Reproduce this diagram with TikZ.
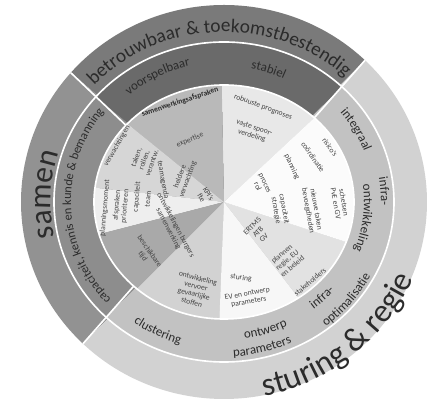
\documentclass[tikz,border=0pt]{standalone}
\usepackage{fontspec}
\setmainfont{Carlito}
\usetikzlibrary{decorations.text}

\definecolor{outA}{HTML}{7A7A7A}
\definecolor{outB}{HTML}{929292}
\definecolor{outC}{HTML}{D2D2D2}
\definecolor{midA}{HTML}{6A6A6A}
\definecolor{midB}{HTML}{8D8D8D}
\definecolor{midC}{HTML}{C2C2C2}
\definecolor{inA}{HTML}{E8E8E8}
\definecolor{inB}{HTML}{B9B9B9}
\definecolor{inC}{HTML}{D6D6D6}
\definecolor{inD}{HTML}{EEEEEE}
\definecolor{inE}{HTML}{A9A9A9}
\definecolor{inF}{HTML}{D2D2D2}
\definecolor{inG}{HTML}{F7F7F7}
\definecolor{inH}{HTML}{E2E2E2}
\definecolor{inI}{HTML}{FBFBFB}
\definecolor{txt}{HTML}{2B2B2B}
\definecolor{dimtxt}{HTML}{444444}

\tikzset{
  lbl/.style={font=\fontsize{6.5}{7}\selectfont, text=dimtxt, align=center, inner sep=0pt},
  arctext/.style 2 args={decoration={text along path, text={|#1|#2}, text align=center, text color=txt}, decorate},
  sep/.style={white, line width=1.4pt},
}

\begin{document}
\begin{tikzpicture}[x=0.03cm, y=0.03cm]
\useasboundingbox (-224,-201) rectangle (214,202);

\foreach \a/\b/\c in {46/139/outA, 139/226/outB, 226/406/outC}
  \fill[\c] (0,0) -- (\a:203 and 197) arc[start angle=\a, end angle=\b, x radius=203, y radius=197] -- cycle;
\foreach \a/\b/\c in {46/139/midA, 139/226/midB, 226/406/midC}
  \fill[\c] (0,0) -- (\a:170 and 160) arc[start angle=\a, end angle=\b, x radius=170, y radius=160] -- cycle;
\foreach \a/\b/\c in {46/91/inA, 91/138/inB, 138/173/inC, 173/196/inD, 196/228/inE, 228/268/inF, 268/305/inG, 305/340/inH, 340/406/inI}
  \fill[\c] (0,0) -- (\a:130 and 117) arc[start angle=\a, end angle=\b, x radius=130, y radius=117] -- cycle;

\draw[sep] (0,0) ellipse[x radius=170, y radius=160];
\draw[sep] (0,0) ellipse[x radius=130, y radius=117];
\foreach \a in {46,139,226}
  \draw[sep] (\a:130 and 117) -- (\a:203 and 197);

% outer ring
\path[arctext={\fontsize{16.5}{17}\selectfont}{betrouwbaar {\&} toekomstbestendig}]
  (142:178 and 170) arc[start angle=142, end angle=42, x radius=178, y radius=170];
\path[arctext={\fontsize{27}{27}\selectfont}{samen}]
  (200:173 and 166) arc[start angle=200, end angle=155, x radius=173, y radius=166];
\path[arctext={\fontsize{28}{28}\selectfont}{sturing {\&} regie}]
  (-86:205 and 198) arc[start angle=-86, end angle=-15, x radius=205, y radius=198];

% middle ring
\path[arctext={\fontsize{11}{11}\selectfont}{voorspelbaar}]
  (138:146 and 140) arc[start angle=138, end angle=96, x radius=146, y radius=140];
\path[arctext={\fontsize{11}{11}\selectfont}{stabiel}]
  (88:142 and 136) arc[start angle=88, end angle=56, x radius=142, y radius=136];
\path[arctext={\fontsize{10.5}{11}\selectfont}{capaciteit, kennis en kunde {\&} bemanning}]
  (228:153 and 145) arc[start angle=228, end angle=136, x radius=153, y radius=145];
\path[arctext={\fontsize{11}{11}\selectfont}{integraal}]
  (46:150 and 142) arc[start angle=46, end angle=14, x radius=150, y radius=142];
\path[arctext={\fontsize{11}{11}\selectfont}{infra-}]
  (14:157 and 148) arc[start angle=14, end angle=-6, x radius=157, y radius=148];
\path[arctext={\fontsize{11}{11}\selectfont}{ontwikkeling}]
  (12:140 and 132) arc[start angle=12, end angle=-26, x radius=140, y radius=132];
\path[arctext={\fontsize{11}{11}\selectfont}{infra-}]
  (-58:145 and 137) arc[start angle=-58, end angle=-34, x radius=145, y radius=137];
\path[arctext={\fontsize{11}{11}\selectfont}{optimalisatie}]
  (-59:166 and 158) arc[start angle=-59, end angle=-21, x radius=166, y radius=158];
\path[arctext={\fontsize{11}{11}\selectfont}{ontwerp}]
  (-88:146 and 138) arc[start angle=-88, end angle=-58, x radius=146, y radius=138];
\path[arctext={\fontsize{11}{11}\selectfont}{parameters}]
  (-95:163 and 155) arc[start angle=-95, end angle=-57, x radius=163, y radius=155];
\path[arctext={\fontsize{11}{11}\selectfont}{clustering}]
  (226:156 and 148) arc[start angle=226, end angle=262, x radius=156, y radius=148];

% inner disc
\node[lbl, rotate=-20] (prog) at (39,95) {robuuste prognoses};
\node[lbl, rotate=-18] (spoor) at (29,70) {vaste spoor-\\verdeling};
\node[lbl, font=\bfseries\fontsize{6.5}{7}\selectfont, text=txt, rotate=18] (afspr) at (-44,100) {samenwerkingsafspraken};
\node[lbl, rotate=22] (exp) at (-34,62) {expertise};
\node[lbl, rotate=70] (taken) at (-80,42) {taken,\\rollen,\\verantw.};
\node[lbl, rotate=70] (verw) at (-40,24) {heldere\\verwachting};
\node[lbl, rotate=-60] (kpi) at (-19,6) {KPI's\\fte};
\node[lbl, rotate=60] (wens) at (-107,56) {verwachtingen};
\node[lbl, rotate=85] (moment) at (-119,-6) {planningsmoment};
\node[lbl, rotate=85] (prio) at (-103,-4) {afspraken\\prioriteren};
\node[lbl, rotate=85] (capl) at (-87,5) {capaciteit};
\node[lbl, rotate=85] (team) at (-76,3) {team};
\node[lbl, rotate=-80] (agenda) at (-61,22) {teamagenda};
\node[lbl, rotate=-55] (tijd) at (-78,-52) {beschikbare\\tijd};
\node[lbl, rotate=-62] (burger) at (-52,-25) {ontwikkelingen burgers\\samenwerking};
\node[lbl, rotate=-15] (stoffen) at (-29,-88) {ontwikkeling\\vervoer\\gevaarlijke\\stoffen};
\node[lbl, rotate=-8] (sturing) at (17,-76) {sturing};
\node[lbl, rotate=10] (ev) at (24,-96) {EV en ontwerp\\parameters};
\node[lbl, rotate=45] (ertms) at (34,-30) {ERTMS\\ATB\\GV};
\node[lbl, rotate=40] (regie) at (63,-58) {plannen\\regie, EU\\en beleid};
\node[lbl, rotate=40] (stake) at (86,-80) {stakeholders};
\node[lbl, rotate=-80] (strat) at (56,-8) {capaciteit\\strategie};
\node[lbl, rotate=-80] (taak) at (88,-8) {nieuwe taken\\bevoegdheden};
\node[lbl, rotate=-80] (pve) at (116,-1) {schetsen\\PvE en GV};
\node[lbl, rotate=-55] (risico) at (106,55) {risico's};
\node[lbl, rotate=-55] (coord) at (89,45) {coördinatie};
\node[lbl, rotate=-65] (plan) at (68,35) {planning};
\node[lbl, rotate=-65] (proces) at (37,17) {proces\\rol};
\end{tikzpicture}
\end{document}
